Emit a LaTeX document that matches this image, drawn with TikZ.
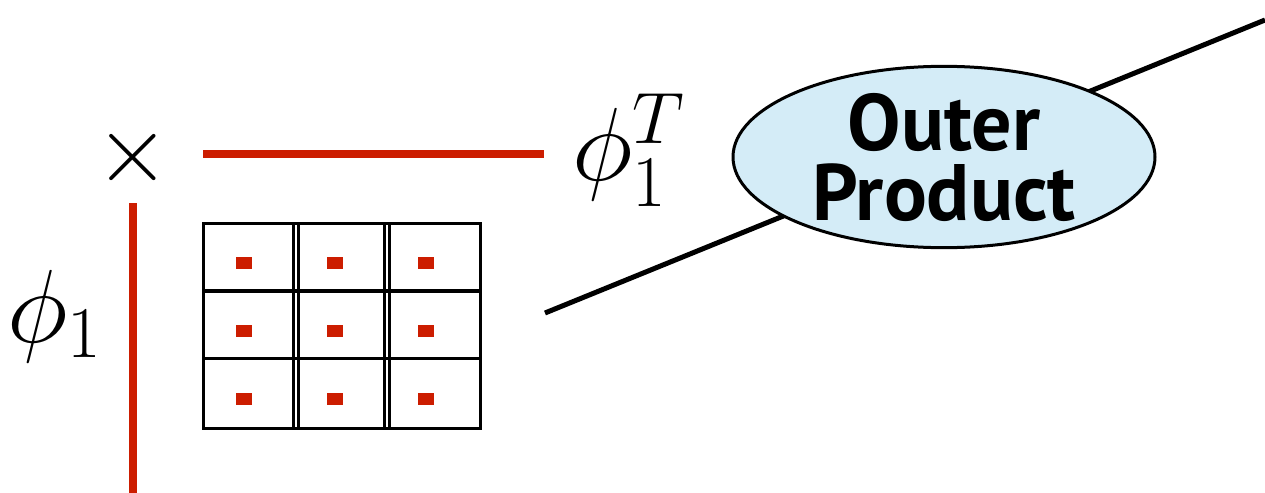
\RequirePackage{fix-cm}
\documentclass[tikz,border=0pt]{standalone}
\usepackage{fontspec}
\newfontfamily\opfont{PT Sans}
\DeclareMathSizes{48}{48}{33.6}{24}
\DeclareMathSizes{52}{52}{36.4}{26}
\usetikzlibrary{shapes.geometric, positioning, backgrounds}
\definecolor{vecred}{HTML}{CC1D00}
\definecolor{opblue}{HTML}{D4ECF7}
\tikzset{
  vecline/.style={line width=4pt, color=vecred},
  gridline/.style={line width=1.5pt, color=black},
  cellmark/.style={
    rectangle, fill=vecred, minimum width=8pt, minimum height=6pt, inner sep=0pt
  },
  operation/.style={
    ellipse, draw=black, line width=1.5pt, fill=opblue,
    minimum width=211pt, minimum height=90pt, inner sep=0pt, align=center,
    font=\opfont\bfseries\fontsize{40}{35}\selectfont
  },
  mathlabel/.style={font=\fontsize{52}{62}\selectfont, inner sep=0pt}
}

\begin{document}
\begin{tikzpicture}[x=0.5pt, y=-0.5pt]
  \useasboundingbox (0,0) rectangle (1265,493);

  % Operation
  \node[operation] (op) at (944,157) {Outer\\Product};

  % Line through the operation
  \coordinate (lin) at (545,313);
  \coordinate (lout) at (1265,20);
  \begin{scope}[on background layer]
    \draw[line width=2.5pt] (lin) -- (lout);
  \end{scope}

  % Vectors
  \coordinate (rowstart) at (203,154);
  \coordinate (rowend) at (544,154);
  \draw[vecline] (rowstart) -- (rowend);
  \coordinate (colstart) at (133,203);
  \coordinate (colend) at (133,493);
  \draw[vecline] (colstart) -- (colend);

  \node[mathlabel, font=\fontsize{48}{58}\selectfont] (times) at (133,157) {$\times$};
  \node[mathlabel] (phicol) at (55,316) {$\phi_1$};
  \node[mathlabel] (phirow) at (629,150) {$\phi_1^T$};

  % Result matrix
  \draw[gridline] (203,223) rectangle (480,428);
  \foreach \x in {293,298,384,389}
    \draw[gridline] (\x,223) -- (\x,428);
  \draw[gridline, line width=2.4pt] (203,291) -- (480,291);
  \draw[gridline] (203,358) -- (480,358);
  \foreach \x [count=\i] in {244,335,426}
    \foreach \y [count=\j] in {263,331,399}
      \node[cellmark] (cell\i\j) at (\x,\y) {};

\end{tikzpicture}
\end{document}
